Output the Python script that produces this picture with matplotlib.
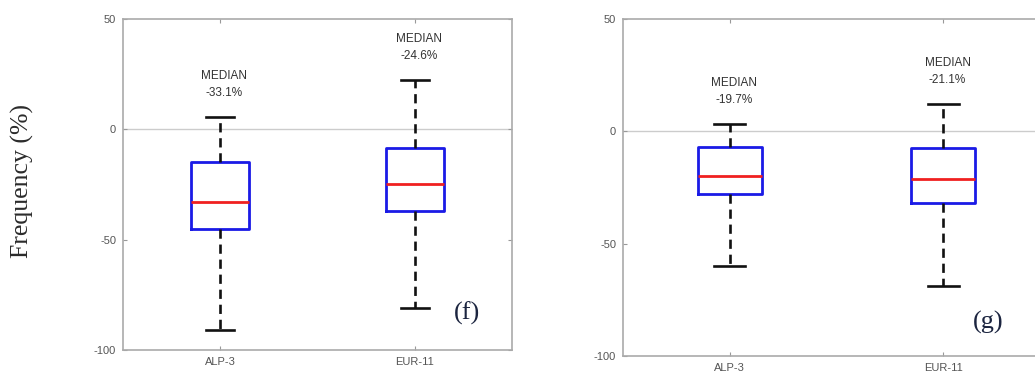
import matplotlib.pyplot as plt

plt.rcParams["axes.unicode_minus"] = False

# Box statistics per panel (values in %)
models = ["ALP-3", "EUR-11"]

f_median = [-33.1, -24.6]
f_q1 = [-45.2, -37.1]
f_q3 = [-14.8, -8.4]
f_low = [-91.0, -81.1]
f_high = [5.5, 22.3]

g_median = [-19.7, -21.1]
g_q1 = [-28.0, -31.8]
g_q3 = [-6.9, -7.6]
g_low = [-59.8, -68.7]
g_high = [3.1, 12.0]

SANS = "Liberation Sans"
SERIF = "Liberation Serif"


def draw_panel(ax, medians, q1s, q3s, lows, highs, tag):
    stats = []
    for name, med, q1, q3, lo, hi in zip(models, medians, q1s, q3s, lows, highs):
        stats.append({"label": name, "med": med, "q1": q1, "q3": q3,
                      "whislo": lo, "whishi": hi, "fliers": []})

    ax.axhline(0, color="#cccccc", lw=1, zorder=0)
    ax.bxp(stats, positions=[1, 2], widths=0.3, capwidths=0.145,
           showfliers=False,
           boxprops=dict(color="#1a1ae6", lw=2),
           medianprops=dict(color="#f02020", lw=2),
           whiskerprops=dict(color="#111111", lw=1.9, linestyle=(0, (3.5, 2.2))),
           capprops=dict(color="#111111", lw=1.9))

    # median annotation above the upper whisker
    for x, med, hi in zip([1, 2], medians, highs):
        ax.text(x + 0.02, hi + 18.5, "MEDIAN", ha="center", va="center",
                fontsize=8.5, family=SANS, color="#333333")
        ax.text(x + 0.02, hi + 11, f"{med:.1f}%", ha="center", va="center",
                fontsize=8.5, family=SANS, color="#333333")

    ax.set_xlim(0.5, 2.5)
    ax.set_ylim(-100, 50)
    ax.set_yticks([-100, -50, 0, 50])
    ax.set_xticks([1, 2])
    ax.set_xticklabels(models)
    ax.tick_params(direction="in", length=3, color="#999999", labelcolor="#555555",
                   labelsize=8, top=True, right=True, pad=5)
    for lbl in ax.get_xticklabels() + ax.get_yticklabels():
        lbl.set_family(SANS)
    for sp in ax.spines.values():
        sp.set_color("#aaaaaa")
        sp.set_linewidth(1.2)

    ax.text(tag[1], tag[2], tag[0], transform=ax.transAxes, ha="center", va="center",
            fontsize=19, family=SERIF, color="#1c2540")


fig = plt.figure(figsize=(10.35, 3.76), dpi=100)
ax_f = fig.add_axes([0.1188, 0.0691, 0.3759, 0.8803])
ax_g = fig.add_axes([0.6019, 0.0532, 0.4126, 0.8963])

draw_panel(ax_f, f_median, f_q1, f_q3, f_low, f_high, ("(f)", 0.884, 0.112))
draw_panel(ax_g, g_median, g_q1, g_q3, g_low, g_high, ("(g)", 0.855, 0.101))

fig.text(0.0213, 0.519, "Frequency (%)", rotation=90, ha="center", va="center",
         fontsize=18.5, family=SERIF, color="#2b2b2b")

fig.savefig("out.png", dpi=100)
